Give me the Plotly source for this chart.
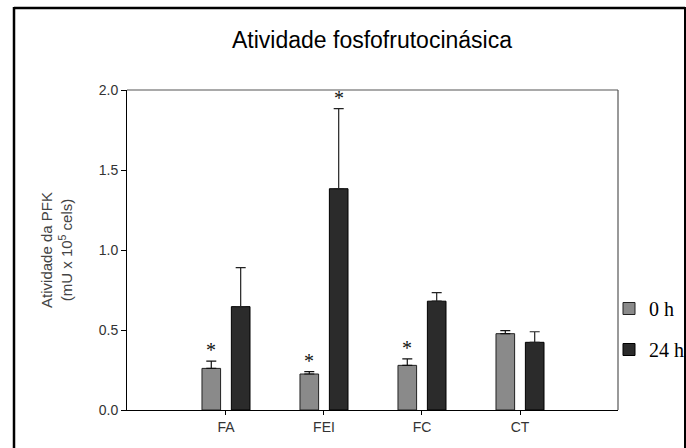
import plotly.graph_objects as go

categories = ["FA", "FEI", "FC", "CT"]
vals_0h = [0.26, 0.225, 0.279, 0.477]
err_0h = [0.046, 0.015, 0.041, 0.019]
vals_24h = [0.646, 1.383, 0.68, 0.423]
err_24h = [0.244, 0.50, 0.053, 0.066]
star_0h = [True, True, True, False]
star_24h = [False, True, False, False]
y_ticks = [0.0, 0.5, 1.0, 1.5, 2.0]

xpos = list(range(len(categories)))
W = 0.19
OFF = 0.15

fig = go.Figure()
fig.add_trace(go.Bar(
    x=xpos, y=vals_0h, name="0 h", width=W, offset=-OFF - W / 2,
    marker=dict(color="#8a8a8a", line=dict(color="#222222", width=1)),
    error_y=dict(type="data", array=err_0h, symmetric=False, arrayminus=[0] * 4,
                 color="#111111", thickness=1.2, width=5),
    legendgroup="a",
))
fig.add_trace(go.Bar(
    x=xpos, y=vals_24h, name="24 h", width=W, offset=OFF - W / 2,
    marker=dict(color="#2b2b2b", line=dict(color="#000000", width=1)),
    error_y=dict(type="data", array=err_24h, symmetric=False, arrayminus=[0] * 4,
                 color="#222222", thickness=1.2, width=5),
    legendgroup="b",
))

anns = []
for i in xpos:
    if star_0h[i]:
        anns.append(dict(x=i - OFF, y=vals_0h[i] + err_0h[i], text="*", showarrow=False,
                         yanchor="bottom", yshift=-2,
                         font=dict(family="Liberation Serif", size=20, color="#111")))
    if star_24h[i]:
        anns.append(dict(x=i + OFF, y=vals_24h[i] + err_24h[i], text="*", showarrow=False,
                         yanchor="bottom", yshift=-2,
                         font=dict(family="Liberation Serif", size=20, color="#111")))

anns.append(dict(xref="paper", yref="paper", x=(372 - 127) / 491, y=(410 - 40) / 320,
                 text="Atividade fosfofrutocinásica", showarrow=False,
                 xanchor="center", yanchor="middle",
                 font=dict(family="Arial, Liberation Sans", size=23, color="#000")))

shapes = [
    # outer frame (left, top, right)
    dict(type="line", xref="paper", yref="paper", x0=(14 - 127) / 491, x1=(14 - 127) / 491,
         y0=(410 - 7) / 320, y1=(410 - 460) / 320, line=dict(color="#000", width=2.5)),
    dict(type="line", xref="paper", yref="paper", x0=(14 - 127) / 491, x1=(685 - 127) / 491,
         y0=(410 - 8) / 320, y1=(410 - 8) / 320, line=dict(color="#000", width=2.5)),
    dict(type="line", xref="paper", yref="paper", x0=(685 - 127) / 491, x1=(685 - 127) / 491,
         y0=(410 - 7) / 320, y1=(410 - 460) / 320, line=dict(color="#000", width=2)),
    # plot box top and right
    dict(type="line", xref="paper", yref="paper", x0=0, x1=1, y0=1, y1=1,
         line=dict(color="#555", width=1.2)),
    dict(type="line", xref="paper", yref="paper", x0=1, x1=1, y0=0, y1=1,
         line=dict(color="#555", width=1.2)),
]

fig.update_layout(
    width=686, height=448,
    margin=dict(l=127, r=68, t=90, b=38, autoexpand=False),
    plot_bgcolor="white", paper_bgcolor="white",
    barmode="overlay",
    showlegend=True,
    legend=dict(x=(609 - 127) / 491, y=(410 - 289) / 320, xanchor="left", yanchor="top",
                font=dict(family="Liberation Serif", size=20, color="#000"),
                traceorder="grouped", tracegroupgap=12, itemwidth=30,
                bgcolor="rgba(0,0,0,0)"),
    annotations=anns,
    shapes=shapes,
    xaxis=dict(range=[-1.01, 4.0], tickmode="array", tickvals=xpos, ticktext=categories,
               showline=True, linecolor="#000", linewidth=1, ticks="outside", ticklen=4,
               tickcolor="#000", showgrid=False, zeroline=False,
               tickfont=dict(family="Arial, Liberation Sans", size=14, color="#333")),
    yaxis=dict(range=[0, 2.0], tickmode="array", tickvals=y_ticks,
               ticktext=[f"{v:.1f}" for v in y_ticks],
               showline=True, linecolor="#000", linewidth=1, ticks="outside", ticklen=5,
               tickcolor="#000", showgrid=False, zeroline=False,
               tickfont=dict(family="Arial, Liberation Sans", size=14, color="#333"),
               title=dict(text="Atividade da PFK<br>(mU x 10<sup>5</sup> cels)", standoff=22,
                          font=dict(family="Arial, Liberation Sans", size=15, color="#444"))),
)

fig.write_html("out.html", config={"displayModeBar": False},
               post_script="document.body.style.margin='0px';document.body.style.overflow='hidden';")
